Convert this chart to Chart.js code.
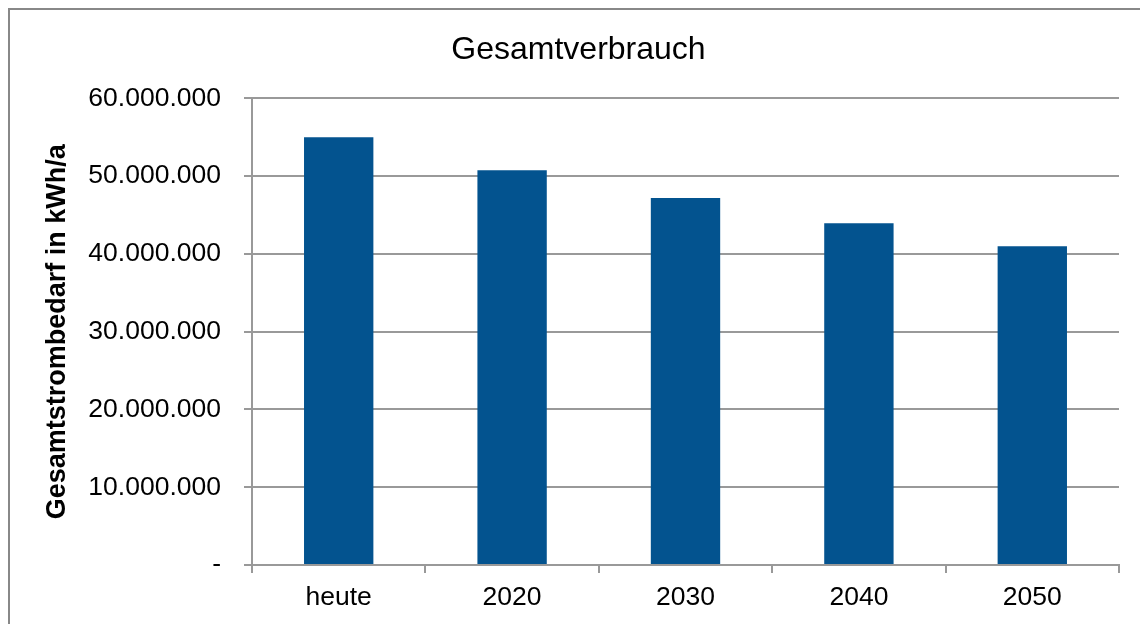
<!DOCTYPE html>
<html>
<head>
<meta charset="utf-8">
<script src="https://cdn.jsdelivr.net/npm/chart.js@4.4.1/dist/chart.umd.min.js"></script>
<style>
  html, body { margin: 0; padding: 0; background: #fff; }
  #wrap { width: 1140px; height: 624px; position: relative; }
</style>
</head>
<body>
<div id="wrap"><canvas id="c" width="1140" height="624"></canvas></div>
<script>
const categories = ['heute', '2020', '2030', '2040', '2050'];
const consumption = [55000000, 50750000, 47200000, 43950000, 41000000];
const chartTitle = 'Gesamtverbrauch';
const yAxisTitle = 'Gesamtstrombedarf in kWh/a';
const yMin = 0, yMax = 60000000, yStep = 10000000;

const FONT = '"Liberation Sans", Arial, Helvetica, sans-serif';

function fmtDE(v) {
  if (v === 0) return '-';
  return String(Math.round(v)).replace(/\B(?=(\d{3})+(?!\d))/g, '.');
}

const frame = {
  id: 'frame',
  beforeDraw(chart) {
    const ctx = chart.ctx;
    ctx.save();
    ctx.fillStyle = '#fff';
    ctx.fillRect(0, 0, chart.width, chart.height);
    ctx.strokeStyle = '#888888';
    ctx.lineWidth = 2;
    ctx.strokeRect(9, 9, 1200, 700);
    ctx.restore();
  }
};

new Chart(document.getElementById('c'), {
  type: 'bar',
  data: {
    labels: categories,
    datasets: [{
      data: consumption,
      backgroundColor: '#03538f',
      borderWidth: 0,
      barPercentage: 0.4,
      categoryPercentage: 1.0
    }]
  },
  options: {
    responsive: false,
    animation: false,
    events: [],
    layout: { padding: { left: 38, right: 21, top: 0, bottom: 0 } },
    plugins: {
      legend: { display: false },
      tooltip: { enabled: false },
      title: {
        display: true,
        text: chartTitle,
        color: '#000',
        font: { family: FONT, size: 32, weight: 'normal', lineHeight: 1.2 },
        padding: { top: 31, bottom: 29 }
      }
    },
    scales: {
      x: {
        offset: true,
        grid: {
          display: true,
          offset: true,
          drawOnChartArea: false,
          drawTicks: true,
          tickLength: 8,
          color: '#999999',
          lineWidth: 2
        },
        border: { display: true, color: '#999999', width: 2 },
        ticks: {
          color: '#000',
          font: { family: FONT, size: 26.5 },
          padding: 9,
          maxRotation: 0,
          autoSkip: false
        },
        afterFit(scale) { scale.height = 59; }
      },
      y: {
        min: yMin,
        max: yMax,
        grid: {
          color: '#999999',
          lineWidth: 2,
          drawTicks: true,
          tickLength: 8
        },
        border: { display: true, color: '#999999', width: 2 },
        ticks: {
          stepSize: yStep,
          color: '#000',
          font: { family: FONT, size: 26.5 },
          padding: 23,
          callback: (v) => fmtDE(v)
        },
        title: {
          display: true,
          text: yAxisTitle,
          color: '#000',
          font: { family: FONT, size: 27, weight: 'bold', lineHeight: 1.2 },
          padding: { top: 3, bottom: 0 }
        },
        afterFit(scale) { scale.width = 214; }
      }
    }
  },
  plugins: [frame]
});
</script>
</body>
</html>
